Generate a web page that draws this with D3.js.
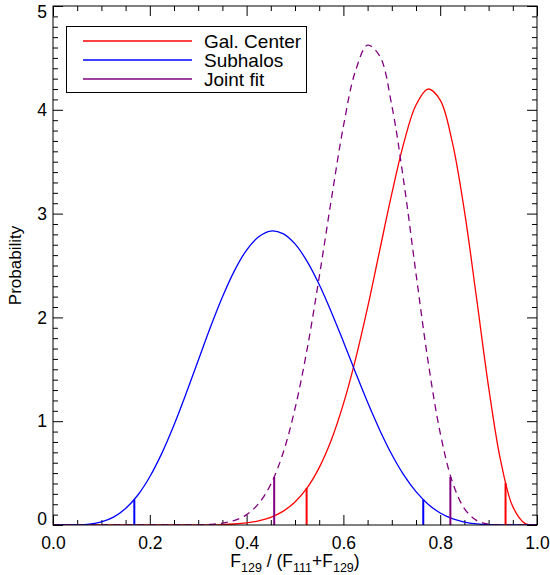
<!DOCTYPE html>
<html>
<head>
<meta charset="utf-8">
<script src="https://cdn.jsdelivr.net/npm/d3@7"></script>
<style>
  html, body { margin: 0; padding: 0; background: #fff; }
  svg { display: block; }
</style>
</head>
<body>
<svg id="chart" width="550" height="575"></svg>
<script>
// Flux ratio grid and posterior densities sampled on it
const xGrid = [0, 0.025, 0.05, 0.075, 0.1, 0.125, 0.15, 0.175, 0.2, 0.225, 0.25,
  0.275, 0.3, 0.325, 0.35, 0.375, 0.4, 0.425, 0.45, 0.475, 0.5,
  0.525, 0.55, 0.575, 0.6, 0.625, 0.65, 0.675, 0.7, 0.725, 0.75,
  0.775, 0.8, 0.825, 0.85, 0.875, 0.9, 0.925, 0.95, 0.975, 1];

const galCenter = [0, 0, 0, 0, 0, 0, 0, 0, 0, 0, 0,
  0.0002, 0.0007, 0.0018, 0.0043, 0.0097, 0.0202, 0.0398, 0.0743, 0.1315, 0.2220,
  0.3575, 0.5529, 0.8189, 1.1667, 1.596, 2.096, 2.646, 3.192, 3.684, 4.046,
  4.200, 4.094, 3.688, 3.026, 2.190, 1.329, 0.617, 0.177, 0.016, 0];

const subhalos = [0, 0.0000, 0.0013, 0.0082, 0.0295, 0.0759, 0.1588, 0.2868, 0.4652, 0.6924, 0.9634,
  1.266, 1.584, 1.902, 2.196, 2.451, 2.649, 2.777, 2.832, 2.807, 2.708,
  2.540, 2.317, 2.053, 1.766, 1.470, 1.182, 0.916, 0.679, 0.480, 0.321,
  0.201, 0.116, 0.061, 0.028, 0.011, 0.003, 0.001, 0, 0, 0];

const jointFit = [0, 0, 0, 0, 0, 0, 0, 0, 0, 0, 0.0001,
  0.0005, 0.0020, 0.0063, 0.0176, 0.0441, 0.0999, 0.2064, 0.3924, 0.6882, 1.121,
  1.693, 2.389, 3.134, 3.841, 4.375, 4.622, 4.518, 4.042, 3.299, 2.422,
  1.574, 0.888, 0.418, 0.158, 0.044, 0.008, 0.001, 0, 0, 0];

// Interval edges (x) and the density at each edge
const galCenterEdges = [0.524, 0.935];
const galCenterEdgeDensity = [0.357, 0.405];
const subhalosEdges = [0.168, 0.765];
const subhalosEdgeDensity = [0.245, 0.245];
const jointFitEdges = [0.457, 0.821];
const jointFitEdgeDensity = [0.463, 0.463];

const seriesNames = ["Gal. Center", "Subhalos", "Joint fit"];
const seriesColors = ["#ff0000", "#0000ff", "#800080"];

const xTickValues = [0, 0.2, 0.4, 0.6, 0.8, 1.0];
const xTickLabels = ["0.0", "0.2", "0.4", "0.6", "0.8", "1.0"];
const yTickValues = [0, 1, 2, 3, 4, 5];
const yTickLabels = ["0", "1", "2", "3", "4", "5"];

const FONT = "'Liberation Sans', Arial, Helvetica, sans-serif";
const W = 550, H = 575;
const plot = { left: 53, right: 537, top: 6, bottom: 525 };

const svg = d3.select("#chart");
svg.append("rect").attr("width", W).attr("height", H).attr("fill", "#fff");

const x = d3.scaleLinear().domain([0, 1]).range([plot.left, plot.right]);
const y = d3.scaleLinear().domain([0, 5]).range([plot.bottom, plot.top]);

const xMinor = d3.range(0, 1.0001, 0.05).filter(v => Math.abs(v / 0.2 - Math.round(v / 0.2)) > 1e-6);
const yMinor = d3.range(0, 5.0001, 0.1).filter(v => Math.abs(v - Math.round(v)) > 1e-6);

// --- axes: major + minor ticks on all four sides, ticks pointing inward ---
function styleAxis(g) {
  g.select(".domain").remove();
  g.selectAll(".tick line").attr("stroke", "#000").attr("stroke-width", 1);
  g.attr("font-family", FONT).attr("font-size", 17.5);
  g.selectAll(".tick text").attr("fill", "#000");
}

const gBottom = svg.append("g").attr("transform", `translate(0,${plot.bottom})`)
  .call(d3.axisBottom(x).tickValues(xTickValues).tickSize(-10).tickPadding(12)
    .tickFormat((d, i) => xTickLabels[i]));
styleAxis(gBottom);
svg.append("g").attr("transform", `translate(0,${plot.bottom})`)
  .call(d3.axisBottom(x).tickValues(xMinor).tickSize(-5).tickFormat("")).call(styleAxis);

svg.append("g").attr("transform", `translate(0,${plot.top})`)
  .call(d3.axisTop(x).tickValues(xTickValues).tickSize(-10).tickFormat("")).call(styleAxis);
svg.append("g").attr("transform", `translate(0,${plot.top})`)
  .call(d3.axisTop(x).tickValues(xMinor).tickSize(-5).tickFormat("")).call(styleAxis);

const gLeft = svg.append("g").attr("transform", `translate(${plot.left},0)`)
  .call(d3.axisLeft(y).tickValues(yTickValues).tickSize(-10).tickPadding(6)
    .tickFormat((d, i) => yTickLabels[i]));
styleAxis(gLeft);
// labels at the ends of the axis are kept inside the axis span
gLeft.selectAll(".tick text")
  .attr("y", d => d === 0 ? -6 : (d === 5 ? 6 : 0));
svg.append("g").attr("transform", `translate(${plot.left},0)`)
  .call(d3.axisLeft(y).tickValues(yMinor).tickSize(-5).tickFormat("")).call(styleAxis);

svg.append("g").attr("transform", `translate(${plot.right},0)`)
  .call(d3.axisRight(y).tickValues(yTickValues).tickSize(-10).tickFormat("")).call(styleAxis);
svg.append("g").attr("transform", `translate(${plot.right},0)`)
  .call(d3.axisRight(y).tickValues(yMinor).tickSize(-5).tickFormat("")).call(styleAxis);

// --- curves ---
svg.append("clipPath").attr("id", "plotClip").append("rect")
  .attr("x", plot.left).attr("y", plot.top)
  .attr("width", plot.right - plot.left).attr("height", plot.bottom - plot.top);

const curveLayer = svg.append("g").attr("clip-path", "url(#plotClip)");
const line = d3.line()
  .x((d, i) => x(xGrid[i]))
  .y(d => y(d))
  .curve(d3.curveCatmullRom.alpha(0.5));

const series = [
  { values: galCenter, color: seriesColors[0], dash: null, edges: galCenterEdges, dens: galCenterEdgeDensity },
  { values: subhalos, color: seriesColors[1], dash: null, edges: subhalosEdges, dens: subhalosEdgeDensity },
  { values: jointFit, color: seriesColors[2], dash: "7,5", edges: jointFitEdges, dens: jointFitEdgeDensity }
];

series.forEach(s => {
  curveLayer.append("path")
    .attr("d", line(s.values))
    .attr("fill", "none")
    .attr("stroke", s.color)
    .attr("stroke-width", 1.3)
    .attr("stroke-dasharray", s.dash);
});

series.forEach(s => {
  curveLayer.selectAll(null)
    .data(s.edges)
    .enter().append("line")
    .attr("x1", d => x(d)).attr("x2", d => x(d))
    .attr("y1", y(0))
    .attr("y2", (d, i) => y(s.dens[i]))
    .attr("stroke", s.color)
    .attr("stroke-width", 2);
});

// --- frame ---
svg.append("rect")
  .attr("x", plot.left).attr("y", plot.top)
  .attr("width", plot.right - plot.left).attr("height", plot.bottom - plot.top)
  .attr("fill", "none").attr("stroke", "#000").attr("stroke-width", 1);

// --- legend ---
const legend = svg.append("g");
legend.append("rect")
  .attr("x", 66.5).attr("y", 26.5).attr("width", 240).attr("height", 66)
  .attr("fill", "#fff").attr("stroke", "#000").attr("stroke-width", 1);
seriesNames.forEach((name, i) => {
  const ly = 41 + i * 19;
  legend.append("line")
    .attr("x1", 83).attr("x2", 192).attr("y1", ly).attr("y2", ly)
    .attr("stroke", seriesColors[i]).attr("stroke-width", 1.3);
  legend.append("text")
    .attr("x", 204).attr("y", ly + 6.8)
    .attr("font-family", FONT).attr("font-size", 19)
    .attr("fill", "#000")
    .text(name);
});

// --- axis titles ---
const xTitle = svg.append("text")
  .attr("x", (plot.left + plot.right) / 2).attr("y", 567)
  .attr("text-anchor", "middle")
  .attr("font-family", FONT).attr("font-size", 17.5).attr("fill", "#000");
const titleParts = [["F", false], ["129", true], [" / (F", false], ["111", true], ["+F", false], ["129", true], [")", false]];
titleParts.forEach(([t, sub], i) => {
  const prevSub = i > 0 && titleParts[i - 1][1];
  const ts = xTitle.append("tspan").text(t);
  if (sub) ts.attr("font-size", 12.5).attr("dy", 5);
  else if (prevSub) ts.attr("dy", -5);
});

svg.append("text")
  .attr("transform", `translate(21,${(plot.top + plot.bottom) / 2}) rotate(-90)`)
  .attr("text-anchor", "middle")
  .attr("font-family", FONT).attr("font-size", 17).attr("fill", "#000")
  .text("Probability");
</script>
</body>
</html>
